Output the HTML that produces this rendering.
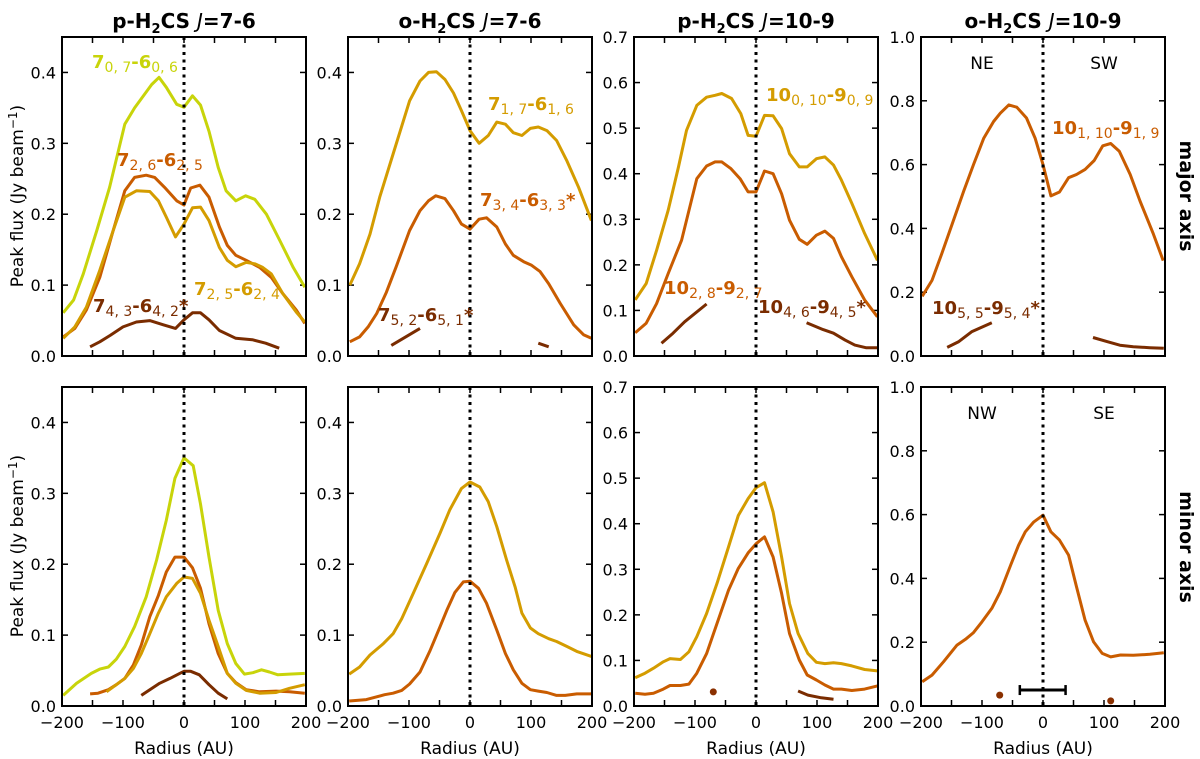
<!DOCTYPE html>
<html><head><meta charset="utf-8"><style>
html,body{margin:0;padding:0;background:#fff;}
svg{display:block;font-family:"DejaVu Sans","Liberation Sans",sans-serif;}
</style></head><body>
<svg id="fig" width="1200" height="759" viewBox="0 0 1200 759" xmlns="http://www.w3.org/2000/svg"></svg>
<script>
const radiusTicks=[-200,-100,0,100,200];
const panelTitles=['p-H<tspan font-size="13" dy="5">2</tspan><tspan dy="-5">CS </tspan><tspan font-style="italic" font-weight="normal">J</tspan>=7-6',
 'o-H<tspan font-size="13" dy="5">2</tspan><tspan dy="-5">CS </tspan><tspan font-style="italic" font-weight="normal">J</tspan>=7-6',
 'p-H<tspan font-size="13" dy="5">2</tspan><tspan dy="-5">CS </tspan><tspan font-style="italic" font-weight="normal">J</tspan>=10-9',
 'o-H<tspan font-size="13" dy="5">2</tspan><tspan dy="-5">CS </tspan><tspan font-style="italic" font-weight="normal">J</tspan>=10-9'];
const yMaxes=[0.45,0.45,0.7,1.0];
const yStepTicks=[0.1,0.1,0.1,0.2];
const C={y:'#c8d40a',g:'#d49c00',o:'#c95c00',d:'#7a2c00'};
const p1TopYellowR=[-198,-181,-165,-143,-122,-97,-81,-53,-41,-29,-12,0,14,27,41,56,69,85,101,116,135,157,179,198];
const p1TopYellowV=[0.061,0.079,0.116,0.177,0.238,0.327,0.35,0.383,0.393,0.379,0.355,0.351,0.367,0.354,0.317,0.266,0.233,0.219,0.226,0.221,0.2,0.163,0.125,0.097];
const p1TopOrangeR=[-198,-179,-160,-138,-116,-97,-81,-62,-48,-32,-12,0,11,26,41,58,71,85,102,124,143,162,184,198];
const p1TopOrangeV=[0.027,0.039,0.065,0.111,0.177,0.233,0.252,0.255,0.252,0.238,0.219,0.213,0.237,0.241,0.224,0.182,0.156,0.142,0.135,0.125,0.111,0.088,0.065,0.046];
const p1TopGoldR=[-198,-179,-160,-138,-116,-97,-78,-56,-42,-29,-14,0,14,27,41,58,71,85,102,116,129,143,162,184,198];
const p1TopGoldV=[0.025,0.041,0.069,0.121,0.177,0.224,0.233,0.232,0.219,0.196,0.168,0.186,0.209,0.21,0.191,0.153,0.135,0.126,0.132,0.13,0.125,0.116,0.088,0.062,0.048];
const p1TopDarkR=[-154,-138,-121,-100,-78,-56,-34,-14,0,14,27,41,58,85,112,134,156];
const p1TopDarkV=[0.013,0.02,0.029,0.041,0.048,0.05,0.044,0.039,0.051,0.061,0.061,0.051,0.036,0.025,0.023,0.018,0.011];
const p1BotYellowR=[-198,-176,-152,-138,-124,-111,-97,-81,-62,-45,-29,-15,0,15,27,41,56,71,85,99,113,127,140,154,173,198];
const p1BotYellowV=[0.015,0.032,0.046,0.052,0.055,0.066,0.084,0.112,0.154,0.206,0.262,0.321,0.35,0.339,0.285,0.21,0.135,0.088,0.06,0.045,0.047,0.051,0.048,0.044,0.045,0.046];
const p1BotOrangeR=[-154,-141,-124,-111,-97,-83,-70,-56,-42,-29,-15,0,14,27,41,56,71,85,102,124,151,173,198];
const p1BotOrangeV=[0.017,0.018,0.023,0.03,0.039,0.058,0.086,0.126,0.156,0.189,0.21,0.21,0.195,0.166,0.116,0.074,0.046,0.033,0.023,0.02,0.021,0.02,0.018];
const p1BotGoldR=[-127,-111,-97,-83,-70,-56,-42,-29,-12,0,14,27,41,56,71,85,102,124,151,173,198];
const p1BotGoldV=[0.02,0.03,0.039,0.053,0.074,0.102,0.131,0.154,0.173,0.182,0.18,0.159,0.121,0.084,0.046,0.032,0.022,0.018,0.019,0.025,0.03];
const p1BotDarkR=[-70,-56,-40,-23,-7,0,11,25,41,56,71];
const p1BotDarkV=[0.015,0.023,0.032,0.039,0.046,0.049,0.049,0.044,0.03,0.018,0.01];
const p2TopGoldR=[-197,-181,-164,-148,-126,-99,-82,-68,-55,-41,-27,-14,0,15,30,44,58,71,85,99,112,126,142,159,178,199];
const p2TopGoldV=[0.1,0.13,0.172,0.224,0.285,0.36,0.388,0.4,0.401,0.39,0.371,0.346,0.318,0.3,0.311,0.33,0.327,0.315,0.311,0.321,0.323,0.318,0.304,0.275,0.238,0.191];
const p2TopOrangeR=[-197,-181,-167,-153,-137,-121,-99,-82,-68,-56,-41,-27,-14,0,15,27,44,58,71,88,101,115,129,148,170,186,199];
const p2TopOrangeV=[0.02,0.027,0.041,0.06,0.09,0.126,0.177,0.205,0.219,0.226,0.222,0.205,0.186,0.179,0.193,0.195,0.182,0.158,0.142,0.133,0.128,0.119,0.102,0.074,0.044,0.03,0.025];
const p2TopDarkAR=[-129,-82], p2TopDarkAV=[0.015,0.039];
const p2TopDarkBR=[112,129], p2TopDarkBV=[0.018,0.013];
const p2BotGoldR=[-198,-181,-164,-142,-126,-112,-93,-71,-49,-33,-14,0,16,30,44,60,74,85,99,112,129,142,159,175,199];
const p2BotGoldV=[0.045,0.055,0.072,0.088,0.102,0.123,0.159,0.201,0.244,0.277,0.307,0.316,0.309,0.288,0.253,0.206,0.168,0.131,0.11,0.102,0.095,0.091,0.084,0.077,0.07];
const p2BotOrangeR=[-198,-170,-153,-140,-126,-112,-99,-82,-66,-49,-38,-25,-11,0,14,27,44,58,71,85,99,112,126,142,156,175,199];
const p2BotOrangeV=[0.007,0.009,0.013,0.016,0.018,0.022,0.031,0.048,0.077,0.112,0.135,0.16,0.175,0.176,0.166,0.145,0.107,0.074,0.051,0.032,0.023,0.021,0.019,0.015,0.015,0.017,0.017];
const p3TopGoldR=[-198,-180,-163,-144,-127,-114,-97,-81,-67,-56,-40,-25,-13,0,14,28,42,55,71,84,99,113,127,140,157,178,199];
const p3TopGoldV=[0.123,0.159,0.232,0.32,0.415,0.495,0.55,0.568,0.572,0.576,0.565,0.532,0.484,0.482,0.528,0.527,0.499,0.444,0.415,0.415,0.433,0.437,0.419,0.386,0.335,0.269,0.21];
const p3TopOrangeR=[-198,-180,-163,-144,-122,-97,-81,-67,-56,-41,-26,-13,0,14,28,42,55,71,84,99,113,127,140,157,178,199];
const p3TopOrangeV=[0.051,0.072,0.115,0.181,0.254,0.389,0.417,0.426,0.426,0.411,0.389,0.36,0.36,0.406,0.4,0.356,0.298,0.256,0.245,0.265,0.274,0.258,0.218,0.174,0.123,0.086];
const p3TopDarkAR=[-155,-136,-117,-81], p3TopDarkAV=[0.028,0.05,0.075,0.114];
const p3TopDarkBR=[83,110,127,146,162,181,199], p3TopDarkBV=[0.073,0.058,0.05,0.035,0.024,0.018,0.018];
const p3BotGoldR=[-198,-182,-168,-152,-141,-124,-110,-97,-81,-64,-45,-29,-13,0,14,28,42,55,69,85,99,113,127,140,157,178,199];
const p3BotGoldV=[0.062,0.072,0.083,0.097,0.104,0.102,0.119,0.152,0.203,0.269,0.349,0.418,0.455,0.479,0.49,0.426,0.327,0.225,0.159,0.115,0.096,0.093,0.095,0.093,0.088,0.08,0.077];
const p3BotOrangeR=[-198,-182,-168,-152,-141,-124,-110,-97,-81,-64,-45,-29,-13,0,14,28,42,55,71,84,99,113,127,140,157,178,199];
const p3BotOrangeV=[0.028,0.026,0.028,0.037,0.045,0.045,0.048,0.072,0.115,0.181,0.254,0.302,0.336,0.356,0.371,0.327,0.247,0.159,0.101,0.068,0.057,0.046,0.037,0.037,0.034,0.037,0.044];
const p3BotDarkR=[69,85,107,127], p3BotDarkV=[0.033,0.024,0.018,0.015];
const p3BotDotR=[-70], p3BotDotV=[0.031];
const p4TopOrangeR=[-198,-182,-166,-149,-130,-114,-97,-81,-70,-56,-43,-27,-13,0,13,27,42,55,69,84,98,111,125,143,159,181,197];
const p4TopOrangeV=[0.187,0.237,0.32,0.413,0.517,0.6,0.683,0.735,0.761,0.787,0.78,0.746,0.683,0.6,0.502,0.514,0.559,0.569,0.585,0.613,0.659,0.666,0.642,0.569,0.486,0.382,0.299];
const p4TopDarkAR=[-157,-138,-117,-84], p4TopDarkAV=[0.027,0.045,0.076,0.104];
const p4TopDarkBR=[82,105,126,148,175,198], p4TopDarkBV=[0.058,0.045,0.034,0.029,0.026,0.024];
const p4BotOrangeR=[-198,-182,-163,-141,-127,-114,-100,-84,-70,-53,-40,-29,-15,0,13,27,42,55,69,83,97,111,127,148,175,198];
const p4BotOrangeV=[0.076,0.097,0.139,0.191,0.209,0.23,0.264,0.306,0.358,0.442,0.504,0.546,0.577,0.598,0.546,0.52,0.473,0.374,0.269,0.201,0.165,0.154,0.16,0.159,0.162,0.167];
const p4BotDotR=[-71,111], p4BotDotV=[0.034,0.016];
const beamR=[-38,37], beamV=[0.05];

const lines=[
 [0,0,'y',p1TopYellowR,p1TopYellowV,'line-7-07'],[0,0,'o',p1TopOrangeR,p1TopOrangeV,'line-7-26'],[0,0,'g',p1TopGoldR,p1TopGoldV,'line-7-25'],[0,0,'d',p1TopDarkR,p1TopDarkV,'line-7-43'],
 [0,1,'y',p1BotYellowR,p1BotYellowV,'line-7-07-minor'],[0,1,'o',p1BotOrangeR,p1BotOrangeV,'line-7-26-minor'],[0,1,'g',p1BotGoldR,p1BotGoldV,'line-7-25-minor'],[0,1,'d',p1BotDarkR,p1BotDarkV,'line-7-43-minor'],
 [1,0,'g',p2TopGoldR,p2TopGoldV,'line-7-17'],[1,0,'o',p2TopOrangeR,p2TopOrangeV,'line-7-34'],[1,0,'d',p2TopDarkAR,p2TopDarkAV,'line-7-52-left'],[1,0,'d',p2TopDarkBR,p2TopDarkBV,'line-7-52-right'],
 [1,1,'g',p2BotGoldR,p2BotGoldV,'line-7-17-minor'],[1,1,'o',p2BotOrangeR,p2BotOrangeV,'line-7-34-minor'],
 [2,0,'g',p3TopGoldR,p3TopGoldV,'line-10-010'],[2,0,'o',p3TopOrangeR,p3TopOrangeV,'line-10-28'],[2,0,'d',p3TopDarkAR,p3TopDarkAV,'line-10-46-left'],[2,0,'d',p3TopDarkBR,p3TopDarkBV,'line-10-46-right'],
 [2,1,'g',p3BotGoldR,p3BotGoldV,'line-10-010-minor'],[2,1,'o',p3BotOrangeR,p3BotOrangeV,'line-10-28-minor'],[2,1,'d',p3BotDarkR,p3BotDarkV,'line-10-46-minor'],
 [3,0,'o',p4TopOrangeR,p4TopOrangeV,'line-10-110'],[3,0,'d',p4TopDarkAR,p4TopDarkAV,'line-10-55-left'],[3,0,'d',p4TopDarkBR,p4TopDarkBV,'line-10-55-right'],
 [3,1,'o',p4BotOrangeR,p4BotOrangeV,'line-10-110-minor']
];
const dots=[[2,1,p3BotDotR,p3BotDotV],[3,1,p4BotDotR,p4BotDotV]];

const NS='http://www.w3.org/2000/svg';
const svg=document.getElementById('fig');
const PX=[62,348,634,921], PW=244, ROWY=[37,387], PH=319;
function el(t,a,p){const e=document.createElementNS(NS,t);for(const k in a)e.setAttribute(k,a[k]);(p||svg).appendChild(e);return e;}
function xs(p,r){return PX[p]+(r+200)/400*PW;}
function ys(p,row,v){return ROWY[row]+PH-v/yMaxes[p]*PH;}

for(let p=0;p<4;p++){
 const t=el('text',{x:PX[p]+PW/2,y:28,'text-anchor':'middle','font-size':20,'font-weight':'bold',fill:'#000'});
 
 
 t.innerHTML=panelTitles[p];
 for(let row=0;row<2;row++){
  const g=el('g',{});
  
  
  const x0=PX[p],y0=ROWY[row];
  for(let r=-200;r<=200;r+=50){const x=xs(p,r);
   el('line',{x1:x,x2:x,y1:y0+PH,y2:y0+PH-6,stroke:'#000','stroke-width':1.5},g);
   el('line',{x1:x,x2:x,y1:y0,y2:y0+6,stroke:'#000','stroke-width':1.5},g);}
  const st=yStepTicks[p];const n=Math.floor(yMaxes[p]/st+1e-6);
  for(let i=0;i<=n;i++){const v=i*st;const y=ys(p,row,v);
   el('line',{x1:x0,x2:x0+6,y1:y,y2:y,stroke:'#000','stroke-width':1.5},g);
   el('line',{x1:x0+PW,x2:x0+PW-6,y1:y,y2:y,stroke:'#000','stroke-width':1.5},g);
   const tl=el('text',{x:x0-6,y:y+6,'text-anchor':'end','font-size':16,fill:'#000'},g);
   
   
   tl.textContent=v.toFixed(1);}
  if(row==1){for(const r of radiusTicks){const tl=el('text',{x:xs(p,r),y:728,'text-anchor':'middle','font-size':16,fill:'#000'},g);
   
   
   tl.textContent=(r<0?'\u2212':'')+Math.abs(r);}
   const xl=el('text',{x:x0+PW/2,y:754,'text-anchor':'middle','font-size':17,fill:'#000'},g);
   
   
   xl.textContent='Radius (AU)';}
  for(const L of lines){if(L[0]!==p||L[1]!==row)continue;
   const pts=L[3].map((r,i)=>xs(p,r).toFixed(1)+','+ys(p,row,L[4][i]).toFixed(1)).join(' ');
   const pl=el('polyline',{points:pts,fill:'none',stroke:C[L[2]],'stroke-width':3,'stroke-linejoin':'round'},g);
   
   }
  for(const D of dots){if(D[0]!==p||D[1]!==row)continue;
   D[2].forEach((r,i)=>{const c=el('circle',{cx:xs(p,r),cy:ys(p,row,D[3][i]),r:3.5,fill:'#8a3000'},g);
    
    });}
  const zl=el('line',{x1:xs(p,0),x2:xs(p,0),y1:y0,y2:y0+PH,stroke:'#000','stroke-width':3,'stroke-dasharray':'3,4.5'},g);
  
  
  el('rect',{x:x0,y:y0,width:PW,height:PH,fill:'none',stroke:'#000','stroke-width':2},g);
 }
}
(function(){const y=ys(3,1,beamV[0]);const g=el('g',{});
 
 
 el('line',{x1:xs(3,beamR[0]),x2:xs(3,beamR[1]),y1:y,y2:y,stroke:'#000','stroke-width':3},g);
 for(const r of beamR)el('line',{x1:xs(3,r),x2:xs(3,r),y1:y-5,y2:y+5,stroke:'#000','stroke-width':2.5},g);})();

function lab(x,y,col,parts,name){const t=el('text',{x:x,y:y,fill:col,'font-size':18,'font-weight':'bold'});
 
 
 let h='';parts.forEach((s,i)=>{if(i%2===0)h+='<tspan dy="'+(i?-4:0)+'">'+s+'</tspan>';else h+='<tspan font-size="14" font-weight="normal" dy="4">'+s+'</tspan>';});
 t.innerHTML=h;}
lab(92,68,C.y,['7','0, 7','-6','0, 6'],'label-7-07');
lab(117,166,C.o,['7','2, 6','-6','2, 5'],'label-7-26');
lab(194,295,C.g,['7','2, 5','-6','2, 4'],'label-7-25');
lab(93,312,C.d,['7','4, 3','-6','4, 2','*'],'label-7-43');
lab(488,110,C.g,['7','1, 7','-6','1, 6'],'label-7-17');
lab(480,206,C.o,['7','3, 4','-6','3, 3','*'],'label-7-34');
lab(378,321,C.d,['7','5, 2','-6','5, 1','*'],'label-7-52');
lab(766,101,C.g,['10','0, 10','-9','0, 9'],'label-10-010');
lab(664,294,C.o,['10','2, 8','-9','2, 7'],'label-10-28');
lab(758,313,C.d,['10','4, 6','-9','4, 5','*'],'label-10-46');
lab(1052,134,C.o,['10','1, 10','-9','1, 9'],'label-10-110');
lab(932,314,C.d,['10','5, 5','-9','5, 4','*'],'label-10-55');
function txt(x,y,s,name,extra){const t=el('text',Object.assign({x:x,y:y,'text-anchor':'middle','font-size':17,fill:'#000'},extra||{}));
 
 
 t.textContent=s;return t;}
txt(982,69,'NE','direction-ne');txt(1104,69,'SW','direction-sw');
txt(982,419,'NW','direction-nw');txt(1104,419,'SE','direction-se');
txt(0,0,'major axis','row-label-major',{transform:'translate(1180,196) rotate(90)','font-weight':'bold','font-size':19});
txt(0,0,'minor axis','row-label-minor',{transform:'translate(1180,547) rotate(90)','font-weight':'bold','font-size':19});
const yl1=el('text',{x:0,y:0,'text-anchor':'middle','font-size':17,transform:'translate(23,196) rotate(-90)'});


yl1.innerHTML='Peak flux (Jy beam<tspan font-size="12" dy="-6">\u22121</tspan><tspan dy="6">)</tspan>';
const yl2=el('text',{x:0,y:0,'text-anchor':'middle','font-size':17,transform:'translate(23,546) rotate(-90)'});


yl2.innerHTML='Peak flux (Jy beam<tspan font-size="12" dy="-6">\u22121</tspan><tspan dy="6">)</tspan>';
</script>
</body></html>
